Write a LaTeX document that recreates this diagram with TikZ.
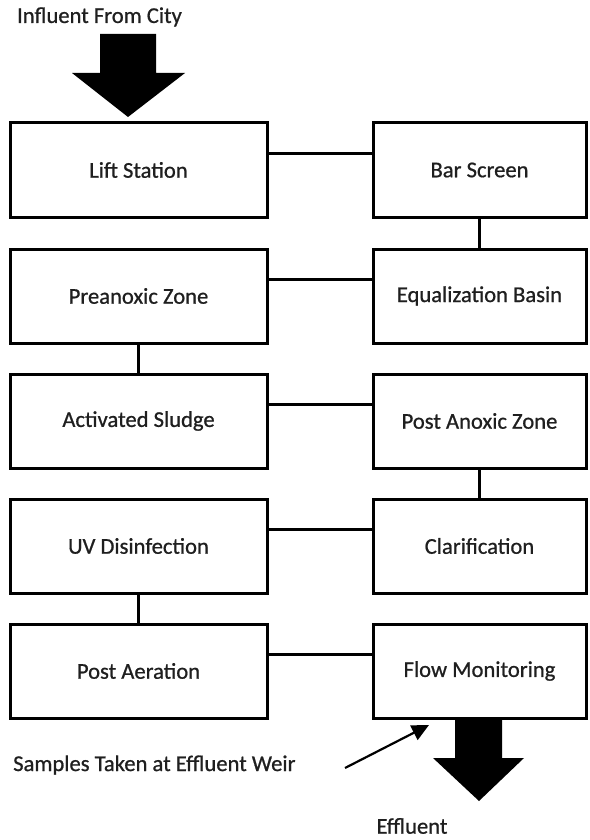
\documentclass[tikz,border=0pt]{standalone}
\usepackage{fontspec}
\setmainfont{Carlito}[FakeBold=0.8]
\usetikzlibrary{arrows.meta}
\begin{document}
\begin{tikzpicture}[x=1pt,y=-1pt,
  box/.style={draw, line width=3pt, rectangle, minimum height=94pt, inner sep=0pt,
    font=\fontsize{22.6}{26}\selectfont, text=black!88},
  lbox/.style={box, minimum width=257pt},
  rbox/.style={box, minimum width=213pt},
  link/.style={line width=2.6pt},
  lbl/.style={font=\fontsize{22.6}{26}\selectfont, inner sep=0pt, text=black!88},
  fat/.style={fill=black, draw=none}]
\useasboundingbox (0,0) rectangle (589,840);
% boxes
\node[lbox] (ls) at (138.5,170) {Lift Station};
\node[rbox] (bs) at (479.5,170) {Bar Screen};
\node[lbox] (pz) at (138.5,296) {Preanoxic Zone};
\node[rbox] (eb) at (479.5,296) {Equalization Basin};
\node[lbox] (as) at (138.5,421) {Activated Sludge};
\node[rbox] (pa) at (479.5,421) {Post Anoxic Zone};
\node[lbox] (uv) at (138.5,546) {UV Disinfection};
\node[rbox] (cl) at (479.5,546) {Clarification};
\node[lbox] (pe) at (138.5,671) {Post Aeration};
\node[rbox] (fm) at (479.5,671) {Flow Monitoring};
% connectors
\draw[link] ([yshift=-32pt]ls.north east) -- ([yshift=-32pt]bs.north west);
\draw[link] (bs.south) -- (eb.north);
\draw[link] ([yshift=-32pt]eb.north west) -- ([yshift=-32pt]pz.north east);
\draw[link] (pz.south) -- (as.north);
\draw[link] ([yshift=-32pt]as.north east) -- ([yshift=-32pt]pa.north west);
\draw[link] (pa.south) -- (cl.north);
\draw[link] ([yshift=-32pt]cl.north west) -- ([yshift=-32pt]uv.north east);
\draw[link] (uv.south) -- (pe.north);
\draw[link] ([yshift=-32pt]pe.north east) -- ([yshift=-32pt]fm.north west);
% labels
\node[lbl] (inf) at (99.5,17) {Influent From City};
\node[lbl, anchor=west] (smp) at (13,765) {Samples Taken at Effluent Weir};
\node[lbl] (eff) at (412,826) {Effluent};
% fat arrows
\fill[fat] (100,34) -- (156,34) -- (156,73) -- (185,73) -- (128,117) -- (72,73) -- (100,73) -- cycle;
\fill[fat] (455,718) -- (502,718) -- (502,758) -- (524,758) -- (479,801) -- (433,758) -- (455,758) -- cycle;
% sample pointer
\coordinate (ps) at (345,768);
\coordinate (pt) at (429,725);
\draw[line width=2.2pt, -{Triangle[length=17pt,width=16pt]}] (ps) -- (pt);
\end{tikzpicture}
\end{document}
